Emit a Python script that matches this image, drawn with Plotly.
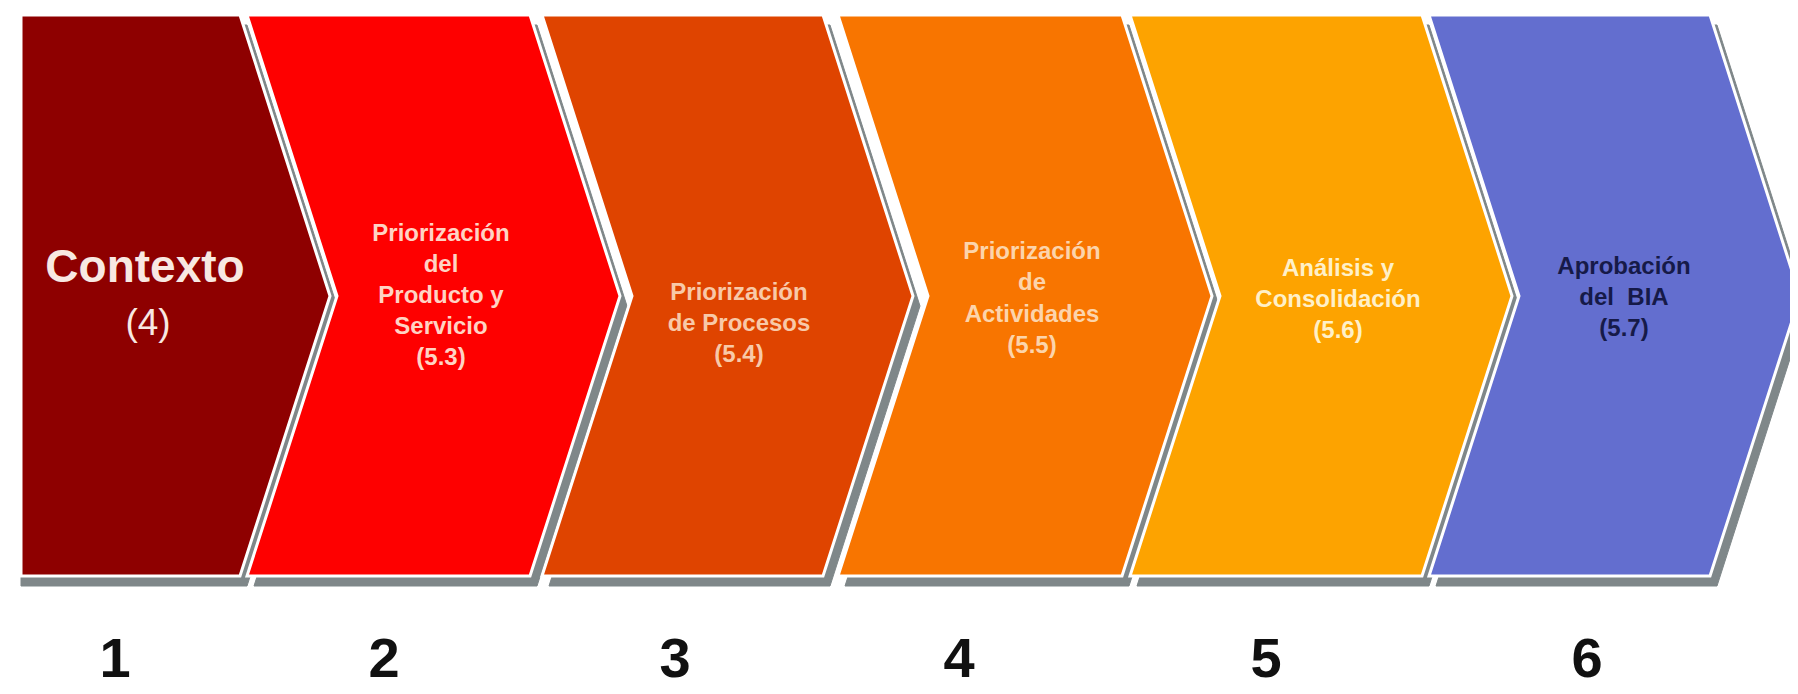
import plotly.graph_objects as go

# ---- data ----
step_numbers = ["1", "2", "3", "4", "5", "6"]
step_titles = [
    "Contexto",
    "Priorización<br>del<br>Producto y<br>Servicio",
    "Priorización<br>de Procesos",
    "Priorización<br>de<br>Actividades",
    "Análisis y<br>Consolidación",
    "Aprobación<br>del  BIA",
]
step_codes = ["(4)", "(5.3)", "(5.4)", "(5.5)", "(5.6)", "(5.7)"]
fill_colors = ["#8e0000", "#fe0000", "#df4400", "#f87500", "#fda300", "#636ecf"]
text_colors = ["#f8e8e2", "#ffd3c4", "#f8c9a8", "#fcd4ab", "#fff0c8", "#161a48"]

# ---- layout geometry (pixel space) ----
W, H = 1798, 694
TOP, BOT, MID = 7, 568, 288
lefts = [13, 239, 534, 830, 1122, 1421]
rights = [232, 522, 815, 1114, 1414, 1702]
DEPTH = 90
SH_DX, SH_DY = 7, 10
text_centers = [(137, 262), (433, 289), (731, 317), (1024, 292), (1330, 293), (1616, 291)]
code1_center = (140, 318)
digit_y = 655
digit_x = [107, 376, 667, 951, 1258, 1579]


def chevron(i, dx=0, dy=0, left_dx=0):
    l, r = lefts[i], rights[i]
    xs = [l + left_dx, r + dx, r + DEPTH + dx, r + dx, l + left_dx]
    ys = [TOP + dy, TOP + dy, MID + dy, BOT + dy, BOT + dy]
    if i > 0:
        xs.append(l + DEPTH + left_dx)
        ys.append(MID + dy)
    xs.append(xs[0])
    ys.append(ys[0])
    return xs, ys


fig = go.Figure()

# shadows
for i in range(len(step_numbers)):
    xs, ys = chevron(i, SH_DX, SH_DY, 0 if i == 0 else SH_DX)
    fig.add_trace(go.Scatter(x=xs, y=ys, mode="lines", fill="toself",
                             fillcolor="#7f8789", line=dict(color="#7f8789", width=1),
                             hoverinfo="skip"))
# chevrons
for i in range(len(step_numbers)):
    xs, ys = chevron(i)
    fig.add_trace(go.Scatter(x=xs, y=ys, mode="lines", fill="toself",
                             fillcolor=fill_colors[i], line=dict(color="white", width=3),
                             hoverinfo="skip"))

# first step: big title + code
fig.add_trace(go.Scatter(x=[text_centers[0][0]], y=[text_centers[0][1]], mode="text",
                         text=["<b>" + step_titles[0] + "</b>"],
                         textfont=dict(family="Liberation Sans, Arial, sans-serif", size=46,
                                       color=text_colors[0]),
                         hoverinfo="skip"))
fig.add_trace(go.Scatter(x=[code1_center[0]], y=[code1_center[1]], mode="text",
                         text=[step_codes[0]],
                         textfont=dict(family="Liberation Sans, Arial, sans-serif", size=37,
                                       color=text_colors[0]),
                         hoverinfo="skip"))

# other steps
for i in range(1, len(step_numbers)):
    fig.add_trace(go.Scatter(x=[text_centers[i][0]], y=[text_centers[i][1]], mode="text",
                             text=["<b>" + step_titles[i] + "<br>" + step_codes[i] + "</b>"],
                             textfont=dict(family="Liberation Sans, Arial, sans-serif", size=24,
                                           color=text_colors[i]),
                             hoverinfo="skip"))

# step numbers
fig.add_trace(go.Scatter(x=digit_x, y=[digit_y] * len(step_numbers), mode="text",
                         text=["<b>" + s + "</b>" for s in step_numbers],
                         textfont=dict(family="Liberation Sans, Arial, sans-serif", size=56,
                                       color="#111111"),
                         hoverinfo="skip"))

fig.update_layout(
    width=W, height=H,
    margin=dict(l=0, r=0, t=0, b=0),
    paper_bgcolor="white", plot_bgcolor="white",
    showlegend=False,
    xaxis=dict(range=[0, W], visible=False, fixedrange=True),
    yaxis=dict(range=[H, 0], visible=False, fixedrange=True),
)

fig.write_html("out.html", config={"displayModeBar": False})
